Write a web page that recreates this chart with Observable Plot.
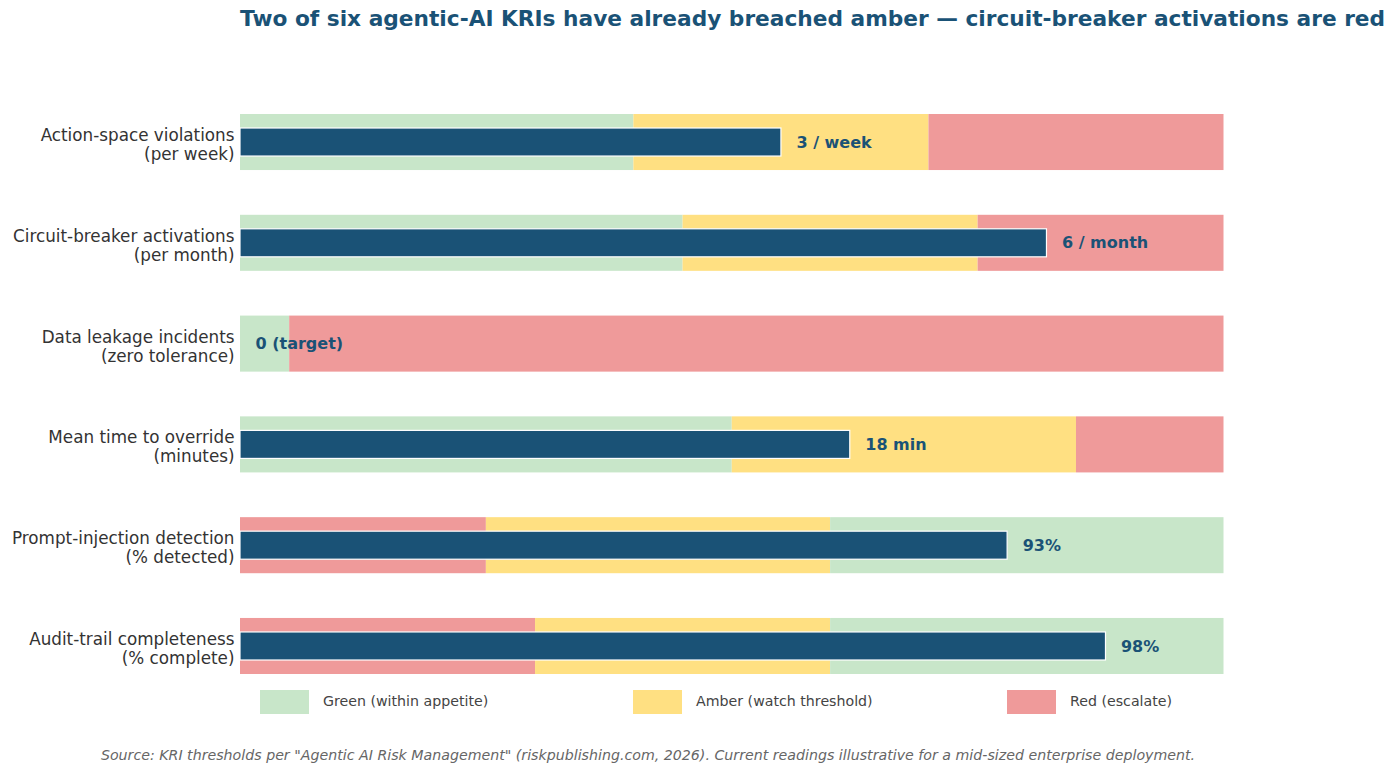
<!DOCTYPE html>
<html>
<head>
<meta charset="utf-8">
<script src="https://cdn.jsdelivr.net/npm/d3@7"></script>
<script src="https://cdn.jsdelivr.net/npm/@observablehq/plot@0.6"></script>
<style>
  html, body { margin: 0; padding: 0; background: #fff; }
  body { width: 1400px; height: 776px; position: relative; font-family: "DejaVu Sans", sans-serif; overflow: hidden; }
  #title { position: absolute; left: 240px; top: 6px; font-size: 21.7px; font-weight: bold; color: #1a5276; white-space: nowrap; }
  #chart { position: absolute; left: 0; top: 46px; }
  .lg { position: absolute; top: 690px; height: 24px; }
  .sw { position: absolute; width: 49px; height: 24px; top: 0; }
  .lt { position: absolute; top: 3px; font-size: 14.2px; color: #444; white-space: nowrap; }
  #caption { position: absolute; left: 0; width: 1296px; top: 747px; text-align: center; font-size: 14.2px; font-style: italic; color: #666; white-space: nowrap; }
</style>
</head>
<body>
<div id="title"></div>
<div id="chart"></div>
<div id="legend"></div>
<div id="caption"></div>
<script>
// ---- Data (positions on a normalised 0–1 appetite scale) ----
const kriNames = [
  "Action-space violations\n(per week)",
  "Circuit-breaker activations\n(per month)",
  "Data leakage incidents\n(zero tolerance)",
  "Mean time to override\n(minutes)",
  "Prompt-injection detection\n(% detected)",
  "Audit-trail completeness\n(% complete)"
];
const lowerIsBetter = [true, true, true, true, false, false];
const zone1End = [0.40, 0.45, 0.05, 0.50, 0.25, 0.30];
const zone2End = [0.70, 0.75, 0.05, 0.85, 0.60, 0.60];
const readings = [0.55, 0.82, 0.00, 0.62, 0.78, 0.88];
const readingLabels = ["3 / week", "6 / month", "0 (target)", "18 min", "93%", "98%"];

const zoneNames = ["Green (within appetite)", "Amber (watch threshold)", "Red (escalate)"];
const zoneColors = ["#c8e6c9", "#ffe082", "#ef9a9a"];
const barColor = "#1a5276";

const titleText = "Two of six agentic-AI KRIs have already breached amber \u2014 circuit-breaker activations are red";
const captionText = "Source: KRI thresholds per \"Agentic AI Risk Management\" (riskpublishing.com, 2026). Current readings illustrative for a mid-sized enterprise deployment.";

// ---- Build tables ----
const bands = [];
kriNames.forEach((k, i) => {
  const order = lowerIsBetter[i] ? [0, 1, 2] : [2, 1, 0];
  const edges = [0, zone1End[i], zone2End[i], 1];
  for (let j = 0; j < 3; j++) {
    if (edges[j + 1] > edges[j]) bands.push({kri: k, x1: edges[j], x2: edges[j + 1], zone: zoneNames[order[j]]});
  }
});
const rows = kriNames.map((k, i) => ({kri: k, value: readings[i], label: readingLabels[i]}));

const chart = Plot.plot({
  width: 1400,
  height: 634,
  marginTop: 68,
  marginBottom: 6,
  marginLeft: 240,
  marginRight: 176.5,
  style: {fontFamily: "DejaVu Sans, sans-serif", background: "white"},
  x: {domain: [0, 1], axis: null},
  y: {domain: kriNames, paddingInner: 0.444, paddingOuter: 0, align: 0.5, round: false, axis: null},
  color: {domain: zoneNames, range: zoneColors},
  marks: [
    Plot.barX(bands, {y: "kri", x1: "x1", x2: "x2", fill: "zone"}),
    Plot.barX(rows.filter(d => d.value > 0), {y: "kri", x1: 0, x2: "value", fill: barColor, stroke: "white", strokeWidth: 1.2, insetTop: 14, insetBottom: 14}),
    Plot.text(rows, {y: "kri", x: "value", text: "label", dx: 15, textAnchor: "start", fontWeight: "bold", fontSize: 16, fill: barColor}),
    Plot.axisY({tickSize: 0, tickPadding: 6, fontSize: 16.8, lineHeight: 1.13, dy: 2, fill: "#333", label: null})
  ]
});
document.getElementById("chart").appendChild(chart);

document.getElementById("title").textContent = titleText;
document.getElementById("caption").textContent = captionText;

const legendX = [260, 633, 1007];
const legend = document.getElementById("legend");
zoneNames.forEach((z, i) => {
  const g = document.createElement("div");
  g.className = "lg";
  g.style.left = legendX[i] + "px";
  const sw = document.createElement("div");
  sw.className = "sw";
  sw.style.background = zoneColors[i];
  const t = document.createElement("div");
  t.className = "lt";
  t.style.left = "63px";
  t.textContent = z;
  g.appendChild(sw); g.appendChild(t);
  legend.appendChild(g);
});
</script>
</body>
</html>
